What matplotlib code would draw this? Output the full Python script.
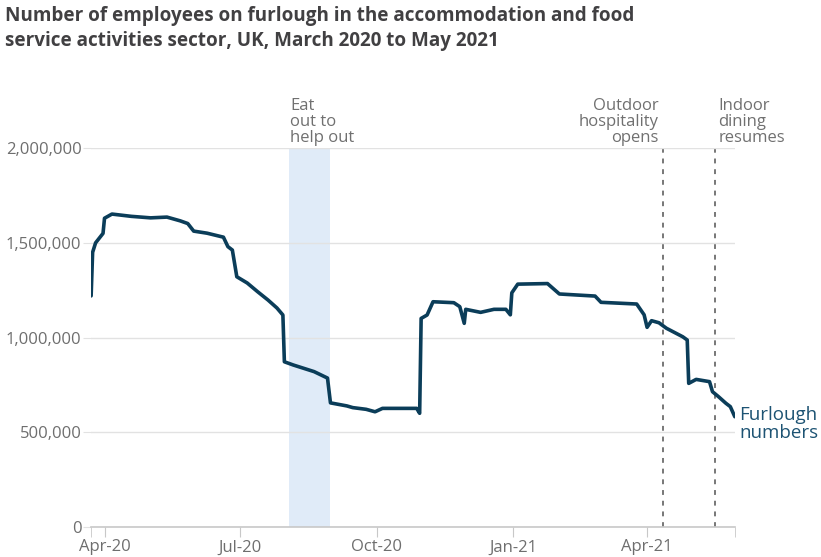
import pandas as pd
import matplotlib
matplotlib.use("Agg")
import matplotlib.pyplot as plt
from matplotlib.ticker import FuncFormatter

plt.rcParams['font.family'] = ['Open Sans', 'DejaVu Sans']

# Furlough numbers
dates = ["2020-03-23", "2020-03-24", "2020-03-26", "2020-03-31", "2020-04-01", "2020-04-06",
         "2020-04-19", "2020-05-02", "2020-05-13", "2020-05-22", "2020-05-27", "2020-05-31",
         "2020-06-09", "2020-06-20", "2020-06-23", "2020-06-26", "2020-06-29", "2020-07-06",
         "2020-07-13", "2020-07-20", "2020-07-26", "2020-07-30", "2020-07-31", "2020-08-06",
         "2020-08-20", "2020-08-29", "2020-08-31", "2020-09-11", "2020-09-15", "2020-09-24",
         "2020-09-30", "2020-10-05", "2020-10-28", "2020-10-30", "2020-10-31", "2020-11-04",
         "2020-11-08", "2020-11-22", "2020-11-26", "2020-11-29", "2020-11-30", "2020-12-10",
         "2020-12-19", "2020-12-27", "2020-12-30", "2020-12-31", "2021-01-04", "2021-01-24",
         "2021-02-01", "2021-02-25", "2021-03-01", "2021-03-25", "2021-03-30", "2021-04-01",
         "2021-04-04", "2021-04-09", "2021-04-14", "2021-04-25", "2021-04-28", "2021-04-29",
         "2021-05-04", "2021-05-13", "2021-05-15", "2021-05-19", "2021-05-24", "2021-05-27",
         "2021-05-30"]
furlough = [1220000, 1450000, 1500000, 1550000, 1630000, 1652000,
            1640000, 1632000, 1636000, 1616000, 1602000, 1562000,
            1551000, 1530000, 1480000, 1462000, 1321000, 1288000,
            1242000, 1198000, 1156000, 1119000, 872000, 855000,
            820000, 786000, 655000, 639000, 630000, 621000,
            608000, 626000, 626000, 600000, 1101000, 1119000,
            1189000, 1184000, 1163000, 1075000, 1149000, 1133000,
            1149000, 1149000, 1120000, 1236000, 1282000, 1285000,
            1230000, 1219000, 1186000, 1177000, 1120000, 1054000,
            1089000, 1078000, 1049000, 1004000, 987000, 758000,
            779000, 767000, 714000, 688000, 653000, 635000,
            582000]

eat_out = ["2020-08-03", "2020-08-31"]
events = ["2021-04-12", "2021-05-17"]
event_labels = ["Outdoor\nhospitality\nopens", "Indoor\ndining\nresumes"]
tick_dates = ["2020-04-01", "2020-07-01", "2020-10-01", "2021-01-01", "2021-04-01"]
tick_labels = ["Apr-20", "Jul-20", "Oct-20", "Jan-21", "Apr-21"]
y_ticks = [0, 500000, 1000000, 1500000, 2000000]

x = pd.to_datetime(dates)

fig = plt.figure(figsize=(8.21, 5.57), dpi=100)
ax = fig.add_axes([0.111, 0.054, 0.784, 0.680])

ax.axvspan(pd.Timestamp(eat_out[0]), pd.Timestamp(eat_out[1]), color='#e0ebf8', lw=0, zorder=0)
for d in events:
    ax.axvline(pd.Timestamp(d), color='#777777', lw=1.4, ls=(0, (2.5, 3)), zorder=1)

ax.plot(x, furlough, color='#0b3d59', lw=2.6, solid_joinstyle='round', solid_capstyle='round', zorder=3)

ax.set_xlim(pd.Timestamp("2020-03-23"), pd.Timestamp("2021-05-30"))
ax.set_ylim(0, 2000000)

ax.set_yticks(y_ticks)
ax.yaxis.set_major_formatter(FuncFormatter(lambda v, p: f"{int(v):,}"))
ax.grid(axis='y', color='#e2e2e2', lw=1, zorder=0)
ax.set_xticks(pd.to_datetime(tick_dates))
ax.set_xticklabels(tick_labels)
ax.set_xticks(pd.to_datetime(["2020-03-23", "2021-05-30"]), minor=True)

for s in ['top', 'right', 'left']:
    ax.spines[s].set_visible(False)
ax.spines['bottom'].set_color('#c8c8c8')
ax.spines['bottom'].set_linewidth(1.2)
ax.tick_params(axis='x', which='both', colors='#c8c8c8', length=7, labelcolor='#6e6e6e', labelsize=12, pad=2)
ax.tick_params(axis='y', colors='#e2e2e2', length=6, labelcolor='#6e6e6e', labelsize=12, pad=1)

top = 2000000
ax.text(pd.Timestamp("2020-08-04"), top + 12000, "Eat\nout to\nhelp out", ha='left', va='bottom',
        fontsize=12, color='#707070', linespacing=1.0)
ax.text(pd.Timestamp(events[0]) - pd.Timedelta(days=3), top + 12000, event_labels[0], ha='right',
        va='bottom', fontsize=12, color='#707070', linespacing=1.0)
ax.text(pd.Timestamp(events[1]) + pd.Timedelta(days=2), top + 12000, event_labels[1], ha='left',
        va='bottom', fontsize=12, color='#707070', linespacing=1.0)

ax.text(pd.Timestamp("2021-06-02"), 545000, "Furlough\nnumbers", ha='left', va='center',
        fontsize=13.5, color='#1d5373', linespacing=1.0, clip_on=False)

fig.text(0.006, 0.99, "Number of employees on furlough in the accommodation and food\n"
         "service activities sector, UK, March 2020 to May 2021", ha='left', va='top',
         fontsize=13.6, fontweight='bold', color='#414042', linespacing=1.35)

fig.savefig("out.png", dpi=100)
